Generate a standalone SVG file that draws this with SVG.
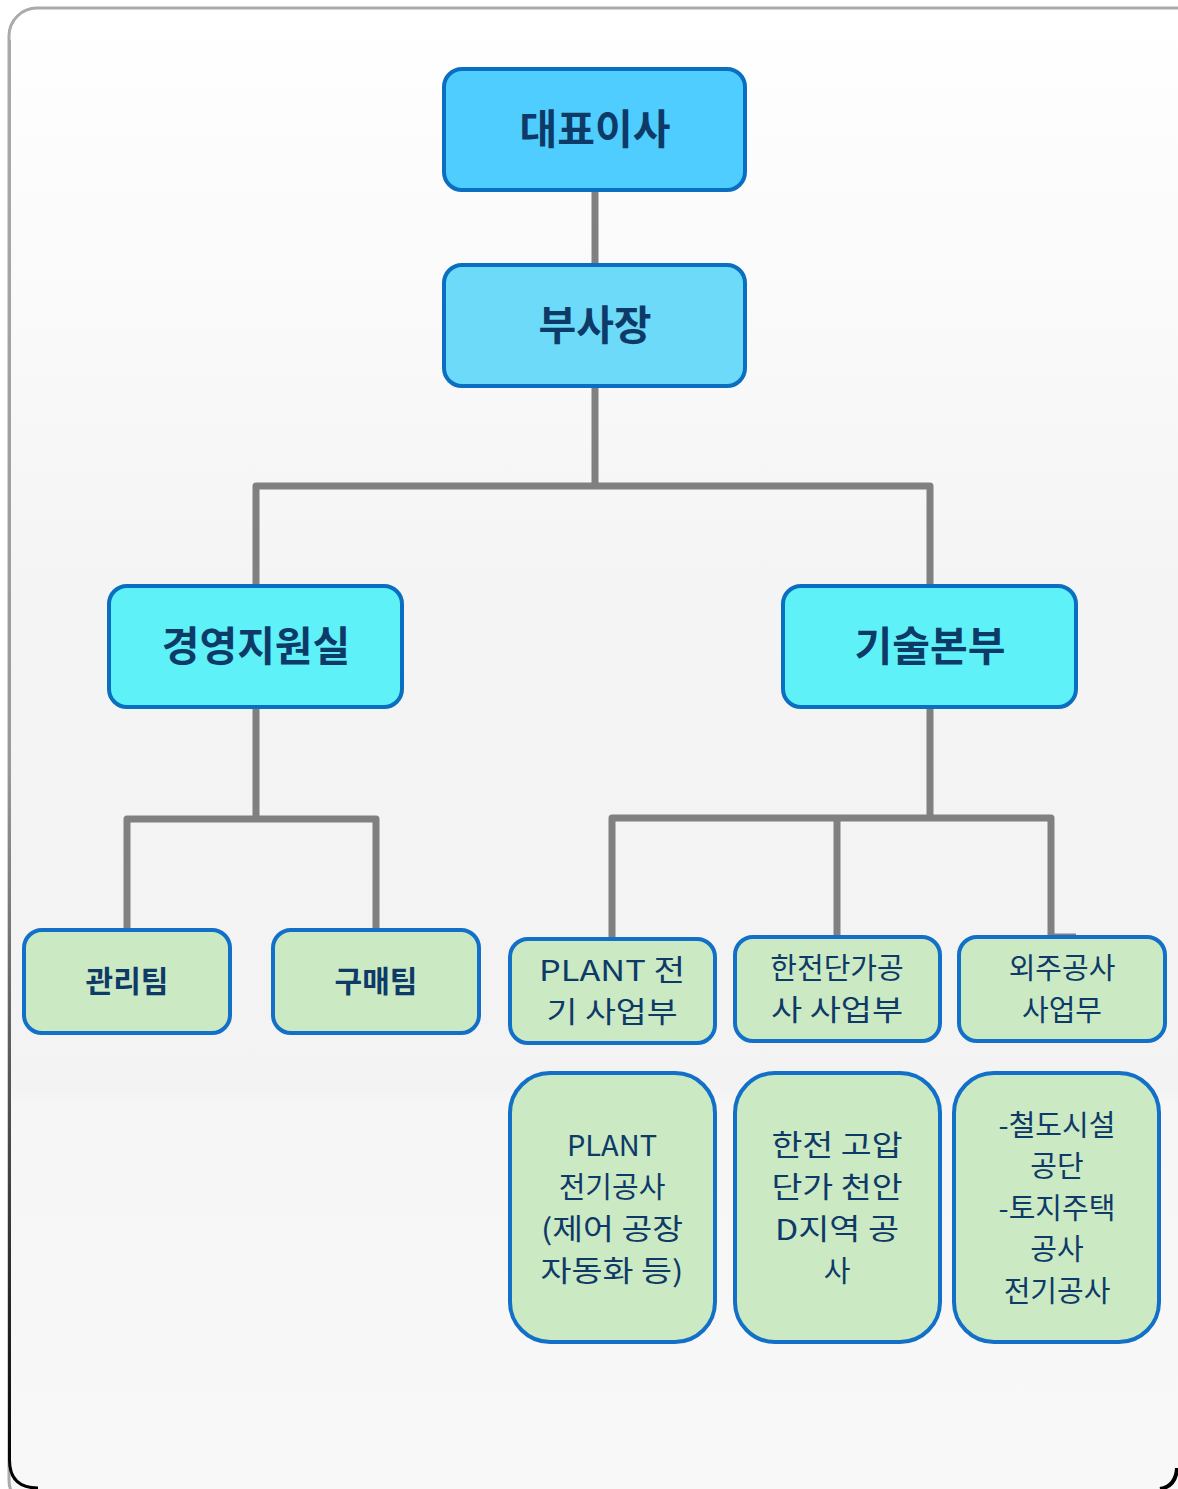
<svg xmlns="http://www.w3.org/2000/svg" width="1178" height="1489" viewBox="0 0 1178 1489">
<defs>
<linearGradient id="bg" x1="0" y1="0" x2="0" y2="1">
<stop offset="0" stop-color="#ffffff"/>
<stop offset="0.15" stop-color="#fbfbfb"/>
<stop offset="0.4" stop-color="#f4f4f4"/>
<stop offset="0.72" stop-color="#f3f3f3"/>
<stop offset="0.73" stop-color="#f6f6f6"/>
<stop offset="1" stop-color="#f8f8f8"/>
</linearGradient>
<linearGradient id="edge" x1="0" y1="0" x2="0" y2="1">
<stop offset="0" stop-color="#aaaaaa"/>
<stop offset="0.5" stop-color="#999999"/>
<stop offset="1" stop-color="#000000"/>
</linearGradient>
<style>
.t1{fill:#4fcdfe;stroke:#0a6fc0;stroke-width:4}
.t2{fill:#6cdaf8;stroke:#0a6fc0;stroke-width:4}
.t3{fill:#5ef2f8;stroke:#0a6fc0;stroke-width:4}
.g{fill:#cbe9c2;stroke:#1270c8;stroke-width:4}
.big{font-family:"Noto Sans CJK KR","Noto Sans",sans-serif;font-weight:bold;font-size:41px;fill:#0e3a68;text-anchor:middle}
.mid{font-family:"Noto Sans CJK KR","Noto Sans",sans-serif;font-weight:bold;font-size:30px;fill:#0e3a68;text-anchor:middle}
.sm{font-family:"Noto Sans CJK KR","Noto Sans",sans-serif;font-size:29px;fill:#0e3a68;text-anchor:middle}
.c{fill:none;stroke:#808080;stroke-width:7;stroke-linejoin:round}
</style>
</defs>
<rect x="9" y="8" width="1200" height="1500" rx="28" fill="url(#bg)" stroke="#aaaaaa" stroke-width="3"/>
<path d="M9.5,40 V1460 Q9.5,1488 38,1488" fill="none" stroke="url(#edge)" stroke-width="3"/>
<path d="M1177,1468 Q1176,1486 1160,1489" fill="none" stroke="#000" stroke-width="4"/>
<g id="connectors">
<path class="c" d="M595,190 V265"/>
<path class="c" d="M595,386 V486 M256,586 V486 H930 V586"/>
<path class="c" d="M256,707 V819 M127,930 V819 H376 V930"/>
<path class="c" d="M930,707 V818 M612,939 V818 H1051 V937 H1076"/>
<path class="c" d="M837,818 V937"/>
</g>
<g id="n1"><rect class="t1" x="444" y="69" width="301" height="121" rx="18"/><text class="big" x="595" y="144">대표이사</text></g>
<g id="n2"><rect class="t2" x="444" y="265" width="301" height="121" rx="18"/><text class="big" x="595" y="340">부사장</text></g>
<g id="n3"><rect class="t3" x="109" y="586" width="293" height="121" rx="18"/><text class="big" x="256" y="661">경영지원실</text></g>
<g id="n4"><rect class="t3" x="783" y="586" width="293" height="121" rx="18"/><text class="big" x="930" y="661">기술본부</text></g>
<g id="n5"><rect class="g" x="24" y="930" width="206" height="103" rx="18"/><text class="mid" x="127" y="992">관리팀</text></g>
<g id="n6"><rect class="g" x="273" y="930" width="206" height="103" rx="18"/><text class="mid" x="376" y="992">구매팀</text></g>
<g id="n7"><rect class="g" x="510" y="939" width="205" height="104" rx="18"/><text class="sm" x="612" y="981" textLength="146" lengthAdjust="spacingAndGlyphs">PLANT 전</text><text class="sm" x="612" y="1023" textLength="131" lengthAdjust="spacingAndGlyphs">기 사업부</text></g>
<g id="n8"><rect class="g" x="735" y="937" width="205" height="104" rx="18"/><text class="sm" x="837" y="979">한전단가공</text><text class="sm" x="837" y="1021" textLength="132" lengthAdjust="spacingAndGlyphs">사 사업부</text></g>
<g id="n9"><rect class="g" x="959" y="937" width="206" height="104" rx="18"/><text class="sm" x="1062" y="979">외주공사</text><text class="sm" x="1062" y="1021">사업무</text></g>
<g id="n10"><rect class="g" x="510" y="1073" width="205" height="269" rx="40"/>
<text class="sm" x="612" y="1156">PLANT</text><text class="sm" x="612" y="1198">전기공사</text><text class="sm" x="612" y="1240" textLength="142" lengthAdjust="spacingAndGlyphs">(제어 공장</text><text class="sm" x="612" y="1282" textLength="143" lengthAdjust="spacingAndGlyphs">자동화 등)</text></g>
<g id="n11"><rect class="g" x="735" y="1073" width="205" height="269" rx="40"/>
<text class="sm" x="837" y="1156" textLength="131" lengthAdjust="spacingAndGlyphs">한전 고압</text><text class="sm" x="837" y="1198" textLength="131" lengthAdjust="spacingAndGlyphs">단가 천안</text><text class="sm" x="837" y="1240" textLength="124" lengthAdjust="spacingAndGlyphs">D지역 공</text><text class="sm" x="837" y="1282">사</text></g>
<g id="n12"><rect class="g" x="954" y="1073" width="205" height="269" rx="40"/>
<text class="sm" x="1057" y="1136">-철도시설</text><text class="sm" x="1057" y="1177">공단</text><text class="sm" x="1057" y="1219">-토지주택</text><text class="sm" x="1057" y="1260">공사</text><text class="sm" x="1057" y="1302">전기공사</text></g>
</svg>
